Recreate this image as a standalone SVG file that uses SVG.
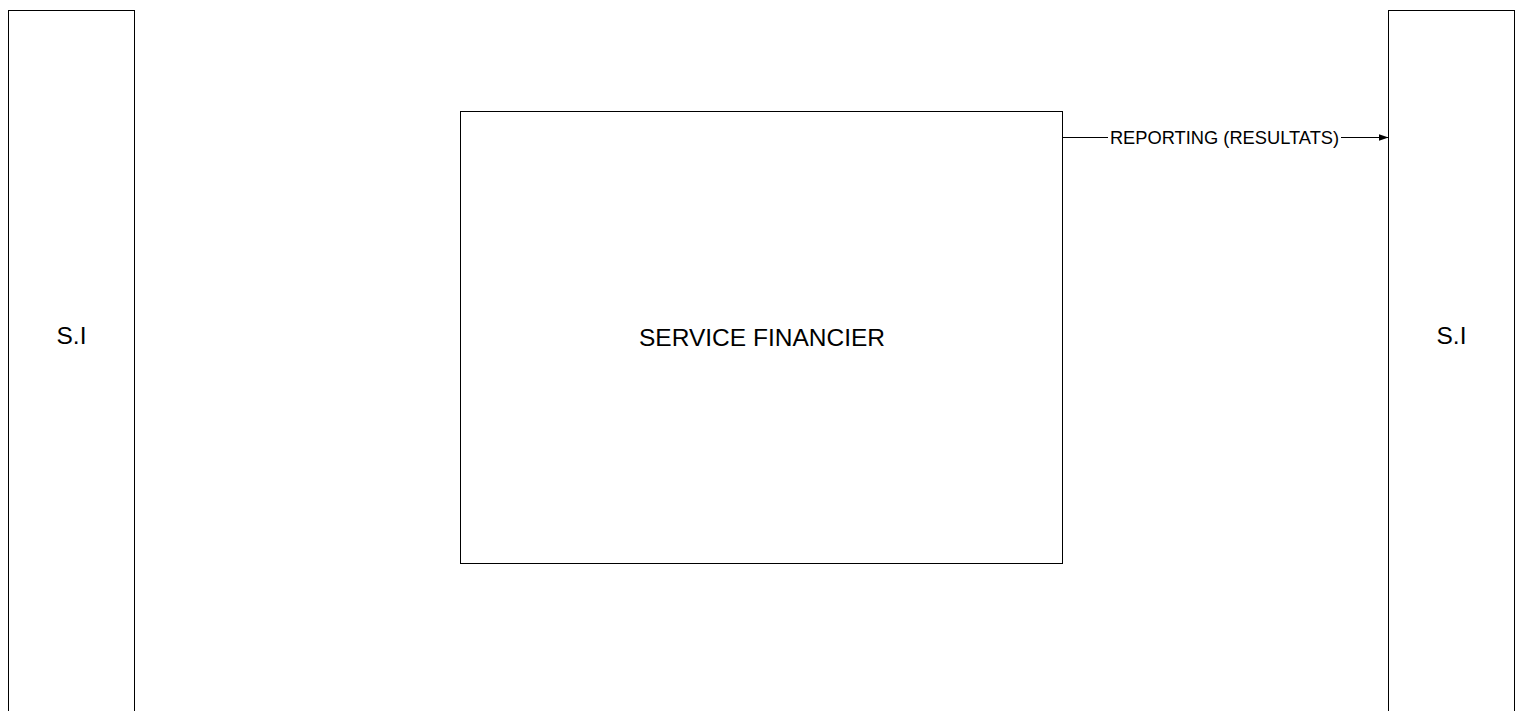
<svg xmlns="http://www.w3.org/2000/svg" width="1522" height="711" viewBox="0 0 1522 711">
<style>
.box{fill:#fff;stroke:#000;stroke-width:1}
.t{font-family:"Liberation Sans",Arial,sans-serif;fill:#000;text-anchor:middle}
.c{stroke:#000;stroke-width:1;fill:none}
</style>
<defs>
<marker id="ah" markerWidth="10" markerHeight="8" refX="10" refY="4" orient="auto" markerUnits="userSpaceOnUse">
<path d="M0,0.5 L10,4 L0,7.5 Z" fill="#000"/>
</marker>
</defs>
<rect width="1522" height="711" fill="#fff"/>
<g id="si-left">
<rect class="box" x="8.5" y="10.5" width="126" height="720"/>
<text class="t" x="71.5" y="344" font-size="24.5">S.I</text>
</g>
<g id="si-right">
<rect class="box" x="1388.5" y="10.5" width="126" height="720"/>
<text class="t" x="1451.5" y="344" font-size="24.5">S.I</text>
</g>
<g id="service-financier">
<rect class="box" x="460.5" y="111.5" width="602" height="452"/>
<text class="t" x="762" y="346" font-size="24.5">SERVICE FINANCIER</text>
</g>
<g id="connectors">
<line class="c" x1="1062.5" y1="137.5" x2="1108" y2="137.5"/>
<line class="c" x1="1341" y1="137.5" x2="1388.5" y2="137.5" marker-end="url(#ah)"/>
<text class="t" x="1224.5" y="144" font-size="18.3">REPORTING (RESULTATS)</text>
</g>
</svg>
